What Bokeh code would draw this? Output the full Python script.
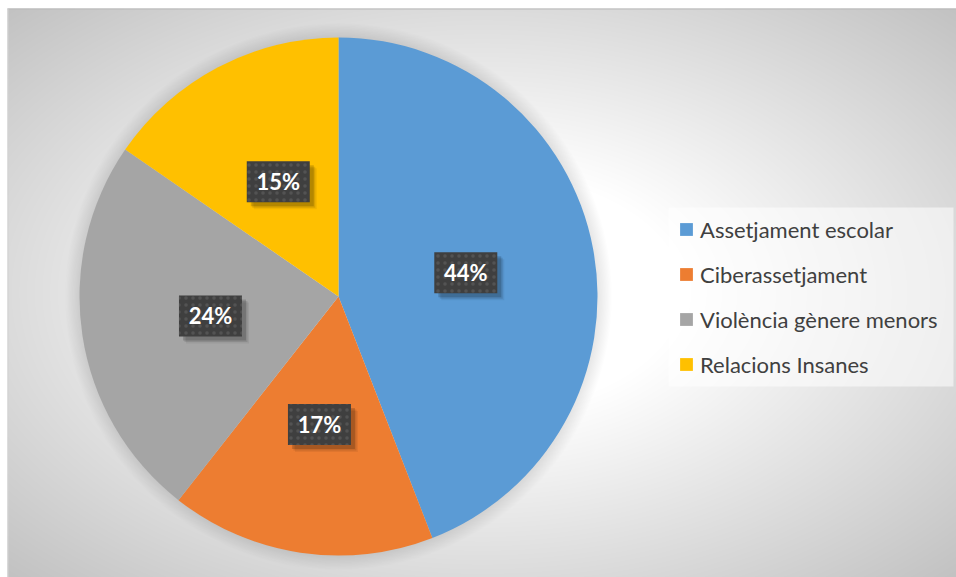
import numpy as np
from bokeh.plotting import figure
from bokeh.models import Range1d, Legend, LegendItem, ColumnDataSource
from bokeh.core.properties import value
from bokeh.embed import file_html
from bokeh.resources import INLINE

# ---- data ----
categories = ["Assetjament escolar", "Ciberassetjament", "Violència gènere menors", "Relacions Insanes"]
shares = [44.1, 16.5, 24.0, 15.4]
labels = ["44%", "17%", "24%", "15%"]       # data labels as printed
colors = ["#5B9BD5", "#ED7D31", "#A5A5A5", "#FFC000"]

W, H = 956, 577
cx, cy, R = 338, 281, 259

p = figure(width=W, height=H, x_range=Range1d(0, W), y_range=Range1d(0, H),
           output_backend="svg", toolbar_location=None, min_border=0)
p.axis.visible = False
p.grid.visible = False
p.outline_line_color = None
p.background_fill_color = "white"
p.border_fill_color = "white"

# ---- chart area with radial gradient background ----
AX0, AW, AH = 7, W - 7, H - 8
xs = np.arange(AW) + AX0 + 0.5
ys = np.arange(AH) + 8 + 0.5          # screen rows from top
X, Y = np.meshgrid(xs, ys)
dx = (X - 482) / 475.0
dy = (Y - 292) / 284.0
d = np.sqrt(dx ** 2 + dy ** 2) / np.sqrt(2)
t = np.clip((d - 0.3) / 0.7, 0, 1)
g = (255 - 61 * t).astype(np.uint8)[::-1]
img = np.empty((AH, AW), dtype=np.uint32)
view = img.view(dtype=np.uint8).reshape((AH, AW, 4))
view[:, :, 0] = g
view[:, :, 1] = g
view[:, :, 2] = g
view[:, :, 3] = 255
p.image_rgba(image=[img], x=AX0, y=0, dw=AW, dh=AH)
p.segment(x0=[AX0, AX0 + 0.5], y0=[AH - 0.5, 0], x1=[W, AX0 + 0.5], y1=[AH - 0.5, AH],
          line_color=["#b9b9b9", "#d2d2d2"], line_width=1)

# ---- soft glow around pie ----
glow_r = R + np.arange(1, 13) * 1.2
p.circle(x=[cx] * len(glow_r), y=[cy] * len(glow_r), radius=glow_r,
         fill_color="black", fill_alpha=0.009, line_color=None)

# ---- wedges ----
frac = np.array(shares, dtype=float) / sum(shares)
cum = np.concatenate([[0.0], np.cumsum(frac)])
start = np.pi / 2 - 2 * np.pi * cum[:-1]
end = np.pi / 2 - 2 * np.pi * cum[1:]
src = ColumnDataSource(dict(cat=categories, start=start, end=end, color=colors))
wr = p.wedge(x=cx, y=cy, radius=R, start_angle="start", end_angle="end",
             direction="clock", fill_color="color", line_color=None, source=src)

# ---- data labels ----
mid = (cum[:-1] + cum[1:]) / 2 * 2 * np.pi
lx = cx + 0.5 * R * np.sin(mid)
ly = cy + 0.5 * R * np.cos(mid)
for off, a in ((7, 0.06), (5.5, 0.1), (4, 0.16)):
    p.rect(x=lx + off, y=ly - off, width=63, height=41, fill_color="black",
           fill_alpha=a, line_color=None)
p.rect(x=lx, y=ly, width=63, height=41, fill_color="#3f3f3f", line_color=None,
       hatch_pattern="dot", hatch_color="#575757", hatch_alpha=0.8,
       hatch_scale=7, hatch_weight=1.2)
p.text(x=lx, y=ly, text=labels, text_align="center", text_baseline="middle",
       text_color="white", text_font=value("Lato"), text_font_style="bold",
       text_font_size="22px")

# ---- legend ----
p.rect(x=(668 + 953) / 2, y=H - (207 + 386) / 2, width=953 - 668, height=386 - 207,
       fill_color="white", fill_alpha=0.55, line_color=None)
items = [LegendItem(label=c, renderers=[wr], index=i) for i, c in enumerate(categories)]
legend = Legend(items=items, location=(678, H - 378), orientation="vertical",
                border_line_color=None, background_fill_alpha=0,
                padding=0, margin=0, spacing=17,
                glyph_width=16, glyph_height=16, label_height=28, label_standoff=6,
                label_text_font="Lato", label_text_font_size="22px",
                label_text_color="#404040")
p.add_layout(legend)

open("out.html", "w").write(file_html(p, INLINE))
